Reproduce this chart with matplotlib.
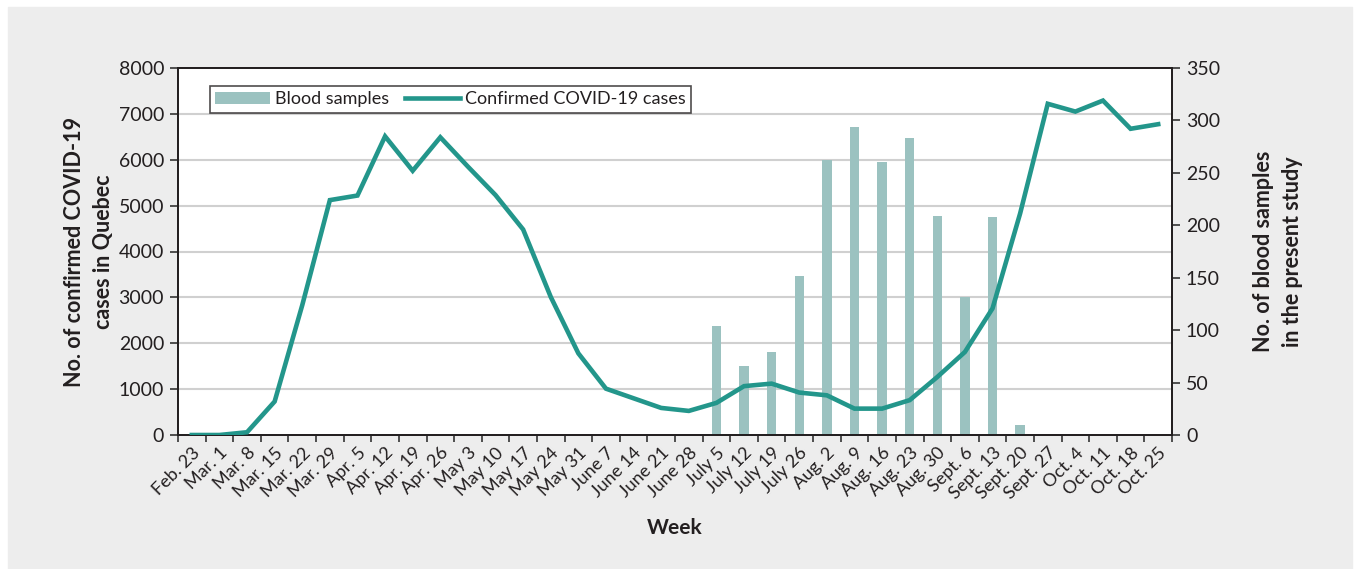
import numpy as np
import matplotlib.pyplot as plt
from matplotlib.patches import Rectangle, Patch
from matplotlib.lines import Line2D

plt.rcParams['font.family'] = ['Lato', 'DejaVu Sans']

# Semaines
weeks = ['Feb. 23', 'Mar. 1', 'Mar. 8', 'Mar. 15', 'Mar. 22', 'Mar. 29',
         'Apr. 5', 'Apr. 12', 'Apr. 19', 'Apr. 26', 'May 3', 'May 10',
         'May 17', 'May 24', 'May 31', 'June 7', 'June 14', 'June 21',
         'June 28', 'July 5', 'July 12', 'July 19', 'July 26', 'Aug. 2',
         'Aug. 9', 'Aug. 16', 'Aug. 23', 'Aug. 30', 'Sept. 6', 'Sept. 13',
         'Sept. 20', 'Sept. 27', 'Oct. 4', 'Oct. 11', 'Oct. 18', 'Oct. 25']

# Cas confirmés (axe gauche)
cases = [0, 0, 60, 730, 2830, 5120, 5220, 6510, 5760, 6490, 5850, 5230,
         4480, 3010, 1780, 1010, 800, 590, 525, 700, 1065, 1120, 925, 865,
         575, 575, 760, 1265, 1810, 2760, 4830, 7220, 7050, 7290, 6675, 6775]

# Échantillons de sang (axe droit)
sample_weeks = ['July 5', 'July 12', 'July 19', 'July 26', 'Aug. 2', 'Aug. 9',
                'Aug. 16', 'Aug. 23', 'Aug. 30', 'Sept. 6', 'Sept. 13', 'Sept. 20']
samples = [104, 66, 79, 152, 262, 294, 260, 283, 209, 132, 208, 10]

line_col = '#23968b'
bar_col = '#9bc2c0'
txt_col = '#231f20'

fig = plt.figure(figsize=(13.55, 5.69), dpi=100)
fig.patches.append(Rectangle((8 / 1355, 0), 1 - 11 / 1355, 1 - 7 / 569,
                             transform=fig.transFigure, color='#ededed', zorder=-10))

ax = fig.add_axes([178 / 1355, 134 / 569, 994 / 1355, 367 / 569])
ax2 = ax.twinx()
ax.set_zorder(ax2.get_zorder() + 1)
ax.patch.set_visible(False)
ax2.patch.set_visible(True)
ax2.patch.set_facecolor('white')

x = np.arange(len(weeks))
xs = [weeks.index(w) for w in sample_weeks]

ax2.bar(xs, samples, width=0.34, color=bar_col, zorder=2)
ax.plot(x, cases, color=line_col, lw=3.3, solid_joinstyle='miter', zorder=3)

ax.set_xlim(-0.5, len(weeks) - 0.5)
ax.set_ylim(0, 8000)
ax2.set_ylim(0, 350)
ax.set_yticks(np.arange(0, 8001, 1000))
ax2.set_yticks(np.arange(0, 351, 50))

# Grille horizontale
for v in range(1000, 8000, 1000):
    ax2.axhline(v * 350 / 8000, color='#d0d0d0', lw=1.5, zorder=1)

ax.set_xticks(x)
ax.set_xticklabels(weeks, rotation=45, ha='right', rotation_mode='anchor')
ax.set_xticks(np.arange(-0.5, len(weeks), 1), minor=True)
ax.tick_params(axis='x', which='major', length=0, pad=7, labelsize=13, colors=txt_col)
ax.tick_params(axis='x', which='minor', length=5, width=1.2, color='#333333')
ax.tick_params(axis='y', length=6, width=1.2, color='#333333', labelsize=14,
               labelcolor=txt_col, pad=4)
ax2.tick_params(axis='y', length=6, width=1.2, color='#333333', labelsize=14,
                labelcolor=txt_col, pad=4)

for a in (ax, ax2):
    for s in a.spines.values():
        s.set_color('#231f20')
        s.set_linewidth(1.3)

ax.set_ylabel('No. of confirmed COVID-19\ncases in Quebec', fontsize=15.5,
              fontweight='bold', color=txt_col, labelpad=3.5, linespacing=1.45)
ax2.set_ylabel('No. of blood samples\nin the present study', fontsize=15.5,
               fontweight='bold', color=txt_col, labelpad=24, rotation=90,
               linespacing=1.45)
ax.set_xlabel('Week', fontsize=15, fontweight='bold', color=txt_col, labelpad=11)

handles = [Patch(facecolor=bar_col, edgecolor='none'),
           Line2D([0], [0], color=line_col, lw=3.3)]
leg = ax.legend(handles, ['Blood samples', 'Confirmed COVID-19 cases'], ncol=2,
                loc='upper left', bbox_to_anchor=(32 / 994, 1 - 18 / 367),
                fontsize=13, frameon=True, fancybox=False, borderpad=0.3,
                handlelength=3.0, handletextpad=0.3, columnspacing=0.9,
                borderaxespad=0)
leg.get_frame().set_edgecolor('#231f20')
leg.get_frame().set_linewidth(1.2)
for t in leg.get_texts():
    t.set_color(txt_col)

fig.savefig('out.png', dpi=100)
